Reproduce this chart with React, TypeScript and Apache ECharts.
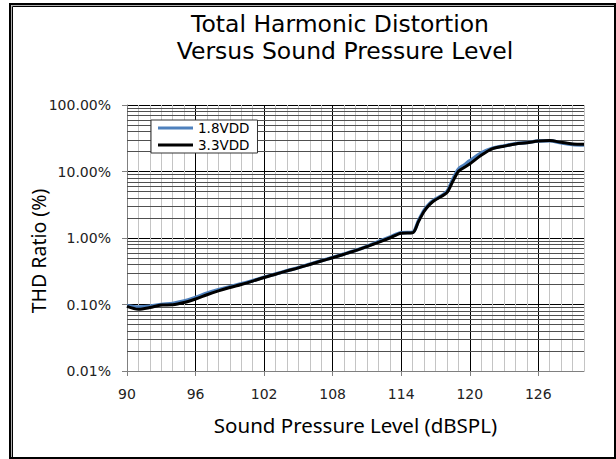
import React, { useEffect, useRef } from 'react';
import * as echarts from 'echarts';

// Sound pressure level (dBSPL)
const splX = [
  90, 91, 92, 93, 94, 95, 96, 97, 98, 99, 100, 101, 102, 103, 104, 105, 106, 107, 108, 109,
  110, 111, 112, 113, 114, 115, 115.5, 116, 116.5, 117, 117.5, 118, 118.5, 119, 119.5, 120,
  121, 122, 123, 124, 125, 126, 127, 128, 129, 130,
];
// THD ratio (%) at 1.8VDD
const thd18 = [
  0.096, 0.092, 0.094, 0.1, 0.104, 0.113, 0.128, 0.148, 0.167, 0.185, 0.205, 0.228, 0.258, 0.288, 0.322, 0.358, 0.405, 0.455, 0.51, 0.575,
  0.65, 0.75, 0.88, 1.03, 1.2, 1.22, 1.8, 2.6, 3.3, 3.85, 4.3, 5.0, 7.5, 10.8, 12.5, 14.5,
  19.0, 22.5, 24.3, 26.2, 27.2, 28.8, 29.0, 27.0, 25.5, 25.0,
];
// THD ratio (%) at 3.3VDD
const thd33 = [
  0.094, 0.085, 0.09, 0.098, 0.099, 0.107, 0.121, 0.14, 0.16, 0.18, 0.2, 0.225, 0.255, 0.285, 0.32, 0.355, 0.4, 0.45, 0.505, 0.57,
  0.645, 0.74, 0.86, 1.0, 1.18, 1.2, 1.75, 2.5, 3.2, 3.75, 4.2, 4.8, 7.0, 10.0, 11.5, 13.0,
  17.5, 22.0, 24.0, 26.0, 27.0, 28.8, 29.2, 27.5, 26.0, 25.8,
];
const seriesNames = ['1.8VDD', '3.3VDD'];
const titleLines = ['Total Harmonic Distortion', 'Versus Sound Pressure Level'];
const xTicks = [90, 96, 102, 108, 114, 120, 126];
const xMin = 90;
const xMax = 130;
const yDecades = [0.01, 0.1, 1, 10, 100];

export default function App() {
  const ref = useRef<HTMLDivElement>(null);
  useEffect(() => {
    const chart = echarts.init(ref.current!, null, { renderer: 'svg' });

    const minorLines: any[] = [];
    for (let v = xMin + 1; v <= xMax; v++) {
      if (xTicks.indexOf(v) >= 0) continue;
      minorLines.push({ xAxis: v, lineStyle: { color: '#c4c4c4', width: 1, type: 'solid' } });
    }
    for (let i = 0; i < yDecades.length - 1; i++) {
      for (let k = 2; k <= 9; k++) {
        const v = +(yDecades[i] * k).toPrecision(3);
        minorLines.push({ yAxis: v, lineStyle: { color: '#505050', width: 1, type: 'solid' } });
      }
    }

    const toPairs = (ys: number[]) => ys.map((y, i) => [splX[i], y]);
    const titleStyle = {
      fontFamily: 'DejaVu Sans',
      fontSize: 23.5,
      fontWeight: 'normal',
      color: '#000',
    };

    chart.setOption({
      animation: false,
      backgroundColor: '#ffffff',
      title: [
        { text: titleLines[0], left: 340, top: 12, textAlign: 'center', textStyle: titleStyle, padding: 0 },
        { text: titleLines[1], left: 345, top: 39, textAlign: 'center', textStyle: titleStyle, padding: 0 },
      ],
      legend: {
        data: seriesNames,
        orient: 'vertical',
        left: 151,
        top: 120,
        icon: 'rect',
        itemWidth: 35,
        itemHeight: 3,
        itemGap: 3,
        padding: [1, 8, 1, 7],
        borderColor: '#333',
        borderWidth: 1,
        backgroundColor: '#fff',
        textStyle: { fontFamily: 'DejaVu Sans', fontSize: 13.5, color: '#000', lineHeight: 14 },
      },
      grid: { left: 127, right: 32, top: 105, bottom: 88, containLabel: false },
      xAxis: {
        type: 'value',
        min: xMin,
        max: xMax,
        interval: 6,
        name: 'Sound Pressure Level (dBSPL)',
        nameLocation: 'middle',
        nameGap: 43,
        nameTextStyle: { fontFamily: 'Noto Sans', fontSize: 20.5, color: '#000' },
        axisLine: { show: true, lineStyle: { color: '#808080', width: 1 } },
        axisTick: { show: true, customValues: xTicks, length: 5, lineStyle: { color: '#808080' } },
        axisLabel: {
          customValues: xTicks,
          margin: 16,
          fontFamily: 'DejaVu Sans',
          fontSize: 14,
          color: '#222',
        },
        splitLine: { show: true, lineStyle: { color: '#000', width: 1 } },
      },
      yAxis: {
        type: 'log',
        logBase: 10,
        min: 0.01,
        max: 100,
        axisLine: { show: true, lineStyle: { color: '#808080', width: 1 } },
        axisTick: { show: true, length: 5, lineStyle: { color: '#808080' } },
        axisLabel: {
          formatter: (v: number) => v.toFixed(2) + '%',
          margin: 16,
          fontFamily: 'DejaVu Sans',
          fontSize: 14,
          color: '#222',
        },
        splitLine: { show: true, lineStyle: { color: '#000', width: 1 } },
      },
      graphic: [
        {
          type: 'text',
          x: 38,
          y: 251,
          rotation: Math.PI / 2,
          style: {
            text: 'THD Ratio (%)',
            font: '19.5px "Noto Sans"',
            textAlign: 'center',
            textVerticalAlign: 'middle',
            fill: '#000',
          },
        },
        {
          type: 'rect',
          z: 100,
          shape: { x: 10, y: 4, width: 605, height: 454 },
          style: { fill: 'none', stroke: '#000', lineWidth: 2 },
          silent: true,
        },
        {
          type: 'polyline',
          z: 100,
          shape: { points: [[11.5, 457], [11.5, 5.5], [614, 5.5]] },
          style: { fill: 'none', stroke: '#b0b0b0', lineWidth: 1 },
          silent: true,
        },
        {
          type: 'polyline',
          z: 100,
          shape: { points: [[12.5, 457], [12.5, 6.5], [614, 6.5]] },
          style: { fill: 'none', stroke: '#000', lineWidth: 1 },
          silent: true,
        },
      ],
      series: [
        {
          name: seriesNames[0],
          type: 'line',
          data: toPairs(thd18),
          smooth: 0.3,
          symbol: 'none',
          showSymbol: false,
          z: 3,
          lineStyle: { color: '#4f81bd', width: 3.5 },
          itemStyle: { color: '#4f81bd' },
          markLine: {
            silent: true,
            z: 1,
            symbol: ['none', 'none'],
            label: { show: false },
            emphasis: { disabled: true },
            animation: false,
            data: minorLines,
          },
        },
        {
          name: seriesNames[1],
          type: 'line',
          data: toPairs(thd33),
          smooth: 0.3,
          symbol: 'none',
          showSymbol: false,
          z: 4,
          lineStyle: { color: '#000', width: 3 },
          itemStyle: { color: '#000' },
        },
      ],
    });
    return () => chart.dispose();
  }, []);
  return (
    <div
      ref={ref}
      style={{ position: 'fixed', left: 0, top: 0, width: 616, height: 459, background: '#fff' }}
    />
  );
}
